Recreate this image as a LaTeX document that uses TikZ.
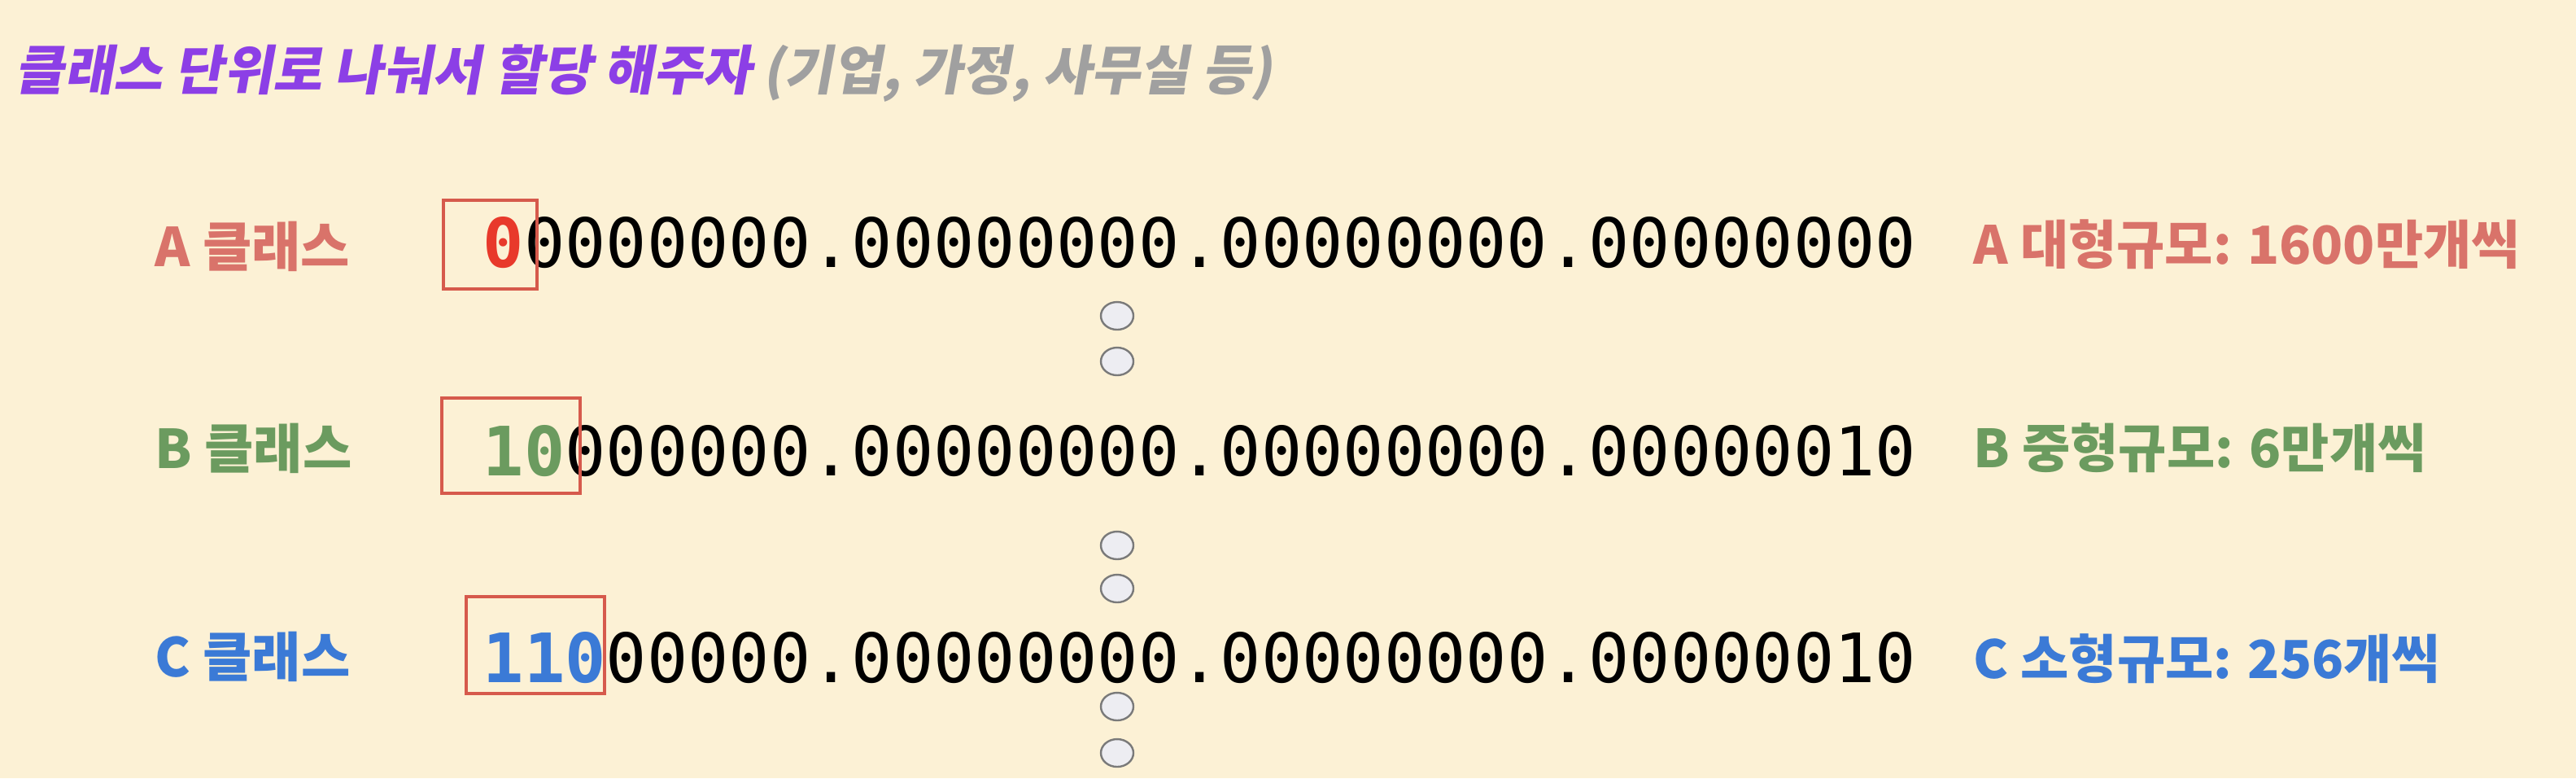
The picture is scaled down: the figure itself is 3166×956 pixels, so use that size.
\documentclass[tikz,border=0pt]{standalone}
\usepackage{fontspec}
\usetikzlibrary{shapes.geometric}
\newfontfamily\kr{Noto Sans CJK KR}
\newfontfamily\krsl{Noto Sans CJK KR}[FakeSlant=0.18]
\newfontfamily\mono{DejaVu Sans Mono}
\definecolor{bg}{HTML}{FCF1D5}
\definecolor{ttlpurple}{HTML}{8C3FE6}
\definecolor{ttlgray}{HTML}{A0A0A0}
\definecolor{colA}{HTML}{D9736A}
\definecolor{colB}{HTML}{6B9B5F}
\definecolor{colC}{HTML}{3B7AD6}
\definecolor{zeroRed}{HTML}{E8392B}
\definecolor{boxred}{HTML}{D65A4C}
\definecolor{dotfill}{HTML}{EDEDF2}
\definecolor{dotline}{HTML}{7A7A7A}
\begin{document}
\begin{tikzpicture}[x=0.25pt,y=-0.25pt,
  lab/.style={anchor=base west, inner sep=0pt, font={\fontsize{16.4}{19}\selectfont\kr\bfseries}},
  rlab/.style={anchor=base west, inner sep=0pt, font={\fontsize{16.1}{19}\selectfont\kr\bfseries}},
  ttl/.style={anchor=base west, inner sep=0pt, font={\fontsize{16.4}{19}\selectfont\krsl\bfseries}},
  bin/.style={anchor=base west, inner sep=0pt, font={\fontsize{20.9}{24}\selectfont\mono}},
  hl/.style={draw=boxred, line width=0.9pt, inner sep=0pt},
  dotc/.style={ellipse, draw=dotline, fill=dotfill, minimum width=10pt, minimum height=8.5pt, inner sep=0pt, line width=0.6pt}]
\fill[bg] (0,0) rectangle (3166,956);
\useasboundingbox (0,0) rectangle (3166,956);
% title
\node[ttl, text=ttlpurple] (title) at (18,110) {클래스 단위로 나눠서 할당 해주자};
\node[ttl, text=ttlgray, anchor=base west] (sub) at ([xshift=3pt]title.base east) {(기업, 가정, 사무실 등)};
% left labels
\node[lab, text=colA] (labA) at (190,327) {A 클래스};
\node[lab, text=colB] (labB) at (190,575) {B 클래스};
\node[lab, text=colC] (labC) at (190,831) {C 클래스};
% binary rows
\node[bin] (binA) at (593,328) {{\bfseries\color{zeroRed}0}0000000.00000000.00000000.00000000};
\node[bin] (binB) at (593,584) {{\bfseries\color{colB}10}000000.00000000.00000000.00000010};
\node[bin] (binC) at (593,838) {{\bfseries\color{colC}110}00000.00000000.00000000.00000010};
% highlight boxes
\node[hl, minimum width=28.75pt, minimum height=27.25pt] (boxA) at (602.5,300.5) {};
\node[hl, minimum width=42.5pt, minimum height=29.25pt] (boxB) at (628,547.5) {};
\node[hl, minimum width=42.5pt, minimum height=29.75pt] (boxC) at (658,792.5) {};
% right labels
\node[rlab, text=colA] (sizeA) at (2425,324) {A 대형규모: 1600만개씩};
\node[rlab, text=colB] (sizeB) at (2425,574) {B 중형규모: 6만개씩};
\node[rlab, text=colC] (sizeC) at (2425,833) {C 소형규모: 256개씩};
% dots
\node[dotc] (d1) at (1373,388) {};
\node[dotc] (d2) at (1373,444) {};
\node[dotc] (d3) at (1373,670) {};
\node[dotc] (d4) at (1373,723) {};
\node[dotc] (d5) at (1373,868) {};
\node[dotc] (d6) at (1373,925) {};
\end{tikzpicture}
\end{document}
